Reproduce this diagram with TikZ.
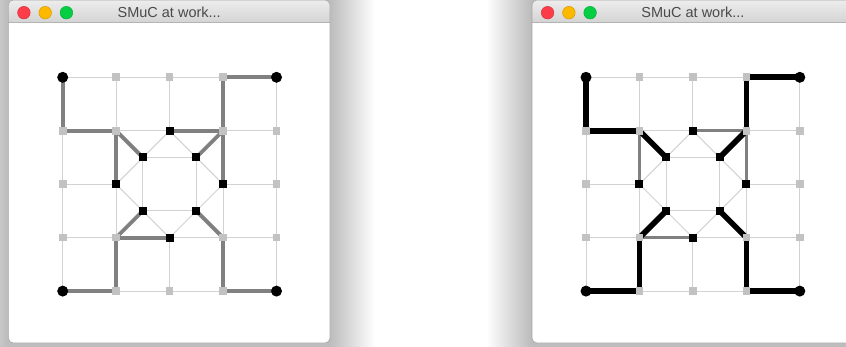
\documentclass[tikz,border=0pt]{standalone}
\usepackage{fontspec}
\setmainfont{Liberation Sans}
\pgfdeclarelayer{winl}
\pgfdeclarelayer{edgel}
\pgfsetlayers{winl,edgel,main}
\definecolor{gridc}{HTML}{D2D2D2}
\definecolor{sqc}{HTML}{C2C2C2}
\definecolor{pathc}{HTML}{808080}
\definecolor{tbtop}{HTML}{EDEDED}
\definecolor{tbbot}{HTML}{D4D4D4}
\definecolor{sepc}{HTML}{B4B4B4}
\definecolor{bordc}{HTML}{A6A6A6}
\definecolor{titlec}{HTML}{4A4A4A}
\definecolor{redc}{HTML}{FC3D49}
\definecolor{yelc}{HTML}{FDB800}
\definecolor{grnc}{HTML}{05CE43}
\tikzset{
  gsq/.style={shape=rectangle, fill=sqc, minimum size=7.6pt, inner sep=0pt},
  bsq/.style={shape=rectangle, fill=black, minimum size=8pt, inner sep=0pt},
  term/.style={shape=circle, fill=black, minimum size=11pt, inner sep=0pt},
  thinedge/.style={draw=gridc, line width=1pt},
  pathedge/.style={draw=pathc, line width=3.8pt},
  rpathedge/.style={draw=pathc, line width=3pt},
  boldedge/.style={draw=black, line width=5.6pt},
  titletext/.style={font=\fontsize{14.5}{17}\selectfont, text=titlec, inner sep=0pt},
  light/.style={shape=circle, minimum size=12.6pt, inner sep=0pt, line width=0.5pt},
}
\begin{document}
\begin{tikzpicture}[x=1pt,y=-1pt]
\useasboundingbox (0,0) rectangle (846,347);
\begin{pgfonlayer}{winl}
\fill[white] (0,0) rectangle (846,347);
\foreach \X in {8.3,532} {
  \foreach \k in {1,...,22}
    \fill[black, opacity=0.013, rounded corners=8pt] (\X-\k*2, -10) rectangle (\X+321.7+\k*2, 347+\k*2);
  \fill[white, rounded corners=5pt] (\X,0) rectangle (\X+321.7,343);
  \shade[top color=tbtop, bottom color=tbbot] (\X,22) [rounded corners=5pt] -- (\X,0) -- (\X+321.7,0) [sharp corners] -- (\X+321.7,22) -- cycle;
  \draw[sepc, line width=0.8pt] (\X,22) -- (\X+321.7,22);
  \draw[bordc, line width=0.6pt, rounded corners=5pt] (\X,0) rectangle (\X+321.7,343);
}
\end{pgfonlayer}
% title bars
\foreach \P/\X in {L/8.3,R/532} {
  \node[light, fill=redc, draw=redc!85!black] (\P-red) at (\X+15.6,12.7) {};
  \node[light, fill=yelc, draw=yelc!85!black] (\P-yel) at (\X+36.9,12.7) {};
  \node[light, fill=grnc, draw=grnc!85!black] (\P-grn) at (\X+58.1,12.7) {};
  \node[titletext] (\P-title) at (\X+160.9,12.7) {SMuC at work...};
}
% graph nodes and thin edges
\foreach \P/\G in {L/62.7,R/586} {
  \foreach \i/\j/\s in {0/0/term,1/0/gsq,2/0/gsq,3/0/gsq,4/0/term,
                        0/1/gsq,1/1/gsq,2/1/bsq,3/1/gsq,4/1/gsq,
                        0/2/gsq,1/2/bsq,3/2/bsq,4/2/gsq,
                        0/3/gsq,1/3/gsq,2/3/bsq,3/3/gsq,4/3/gsq,
                        0/4/term,1/4/gsq,2/4/gsq,3/4/gsq,4/4/term}
    \node[\s] (\P-\i-\j) at (\G+\i*53.45, 77.3+\j*53.45) {};
  \node[bsq] (\P-a) at (\G+1.5*53.45, 77.3+1.5*53.45) {};
  \node[bsq] (\P-b) at (\G+2.5*53.45, 77.3+1.5*53.45) {};
  \node[bsq] (\P-c) at (\G+1.5*53.45, 77.3+2.5*53.45) {};
  \node[bsq] (\P-d) at (\G+2.5*53.45, 77.3+2.5*53.45) {};
  \begin{pgfonlayer}{edgel}
    \foreach \i/\ii in {0/1,1/2,2/3,3/4}
      \foreach \j in {0,1,3,4} {
        \draw[thinedge] (\P-\i-\j.center) -- (\P-\ii-\j.center);
        \draw[thinedge] (\P-\j-\i.center) -- (\P-\j-\ii.center);
      }
    \foreach \u/\v in {0-2/1-2,3-2/4-2,2-0/2-1,2-3/2-4,
                       a/b,b/d,d/c,c/a,
                       a/1-1,a/2-1,a/1-2,b/3-1,b/2-1,b/3-2,
                       c/1-3,c/1-2,c/2-3,d/3-3,d/3-2,d/2-3}
      \draw[thinedge] (\P-\u.center) -- (\P-\v.center);
  \end{pgfonlayer}
}
% highlighted edges
\begin{pgfonlayer}{edgel}
\foreach \u/\v in {0-0/0-1,0-1/1-1,1-1/a,1-1/1-2,2-1/3-1,3-1/b,3-0/3-1,3-0/4-0,
                   3-1/3-2,1-3/c,1-3/2-3,d/3-3,3-3/3-4,3-4/4-4,1-3/1-4,0-4/1-4}
  \draw[pathedge] (L-\u.center) -- (L-\v.center);
\foreach \u/\v in {2-1/3-1,1-1/1-2,3-1/3-2,1-3/2-3}
  \draw[rpathedge] (R-\u.center) -- (R-\v.center);
\foreach \u/\v in {0-0/0-1,0-1/1-1,1-1/a,3-1/b,3-0/3-1,3-0/4-0,
                   c/1-3,1-3/1-4,0-4/1-4,d/3-3,3-3/3-4,3-4/4-4}
  \draw[boldedge] (R-\u.center) -- (R-\v.center);
\end{pgfonlayer}
\end{tikzpicture}
\end{document}
